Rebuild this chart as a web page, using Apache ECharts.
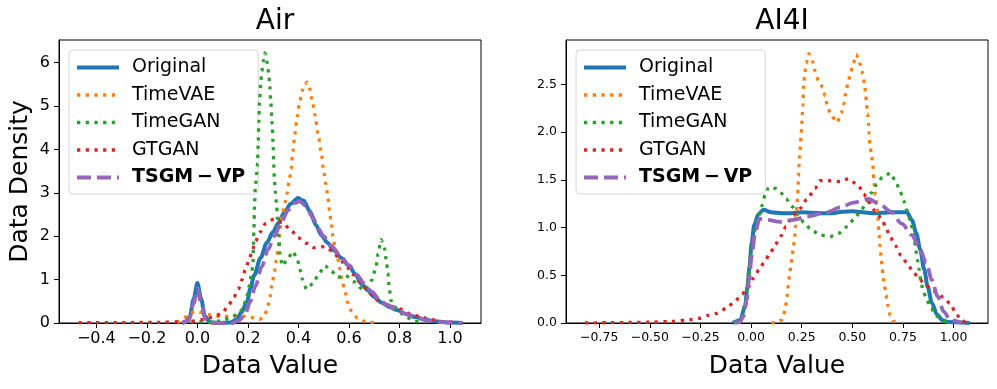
<!DOCTYPE html>
<html>
<head>
<meta charset="utf-8">
<script src="https://cdn.jsdelivr.net/npm/echarts@6/dist/echarts.min.js"></script>
<style>
  html, body { margin: 0; padding: 0; background: #fff; }
  #chart { width: 997px; height: 389px; }
</style>
</head>
<body>
<div id="chart"></div>
<script>
// series names / colours (matplotlib tab10)
var names = ['Original', 'TimeVAE', 'TimeGAN', 'GTGAN', 'TSGM\u2009\u2212\u2009VP'];
var colors = ['#1f77b4', '#ff7f0e', '#2ca02c', '#d62728', '#9467bd'];

// tick labels
var airXTicks = [-0.4, -0.2, 0, 0.2, 0.4, 0.6, 0.8, 1.0];
var airYTicks = [0, 1, 2, 3, 4, 5, 6];
var ai4iXTicks = [-0.75, -0.5, -0.25, 0, 0.25, 0.5, 0.75, 1.0];
var ai4iYTicks = [0, 0.5, 1.0, 1.5, 2.0, 2.5];

// ---- Air : [value, density] ----
var airOriginal = [[-0.06,0],[-0.045,0.03],[-0.03,0.15],[-0.015,0.55],[0,0.92],[0.015,0.55],[0.03,0.15],[0.05,0.02],[0.08,0],[0.13,0.01],
  [0.155,0.08],[0.175,0.25],[0.197,0.5],[0.21,0.8],[0.225,1.1],[0.25,1.5],[0.275,1.85],[0.3,2.1],[0.32,2.3],[0.345,2.55],[0.37,2.75],
  [0.398,2.88],[0.42,2.82],[0.445,2.58],[0.47,2.25],[0.49,2.03],[0.515,1.85],[0.54,1.67],[0.57,1.5],[0.6,1.32],[0.625,1.13],[0.65,0.9],
  [0.675,0.75],[0.7,0.6],[0.73,0.47],[0.76,0.37],[0.79,0.3],[0.83,0.2],[0.86,0.14],[0.9,0.08],[0.94,0.04],[1.0,0.01],[1.05,0]];
var airTimeVAE = [[-0.08,0],[-0.06,0.08],[-0.03,0.22],[-0.01,0.27],[0.02,0.24],[0.05,0.19],[0.09,0.15],[0.13,0.15],[0.17,0.17],[0.21,0.13],
  [0.245,0.08],[0.265,0.15],[0.278,0.35],[0.287,0.6],[0.296,0.9],[0.305,1.19],[0.313,1.45],[0.319,1.7],[0.325,2.0],[0.331,2.3],[0.338,2.55],
  [0.347,2.78],[0.356,3.0],[0.364,3.28],[0.371,3.55],[0.378,3.95],[0.386,4.35],[0.395,4.75],[0.405,5.1],[0.415,5.35],[0.425,5.5],[0.435,5.55],
  [0.445,5.4],[0.455,5.12],[0.465,4.8],[0.478,4.35],[0.49,3.94],[0.5,3.5],[0.509,3.2],[0.516,2.95],[0.523,2.6],[0.53,2.3],[0.537,2.0],
  [0.545,1.75],[0.555,1.5],[0.564,1.25],[0.573,0.98],[0.585,0.72],[0.595,0.47],[0.61,0.28],[0.635,0.11],[0.67,0.02],[0.72,0]];
var airTimeGAN = [[-0.06,0],[0,0.03],[0.05,0.02],[0.1,0.05],[0.13,0.13],[0.16,0.2],[0.18,0.32],[0.195,0.6],[0.207,0.88],[0.214,1.11],
  [0.22,1.34],[0.222,1.8],[0.224,2.2],[0.226,2.7],[0.23,3.18],[0.235,3.45],[0.238,3.68],[0.241,4.14],[0.243,4.62],[0.246,5.08],[0.251,5.54],
  [0.255,5.8],[0.26,6.02],[0.267,6.22],[0.277,5.99],[0.282,5.76],[0.286,5.53],[0.291,5.06],[0.296,4.59],[0.3,4.13],[0.302,3.67],[0.305,3.3],
  [0.309,3.0],[0.313,2.76],[0.318,2.35],[0.322,2.0],[0.327,1.6],[0.336,1.32],[0.356,1.46],[0.378,1.65],[0.396,1.46],[0.406,1.23],[0.416,1.0],
  [0.433,0.78],[0.46,0.92],[0.48,1.13],[0.505,1.32],[0.53,1.2],[0.555,1.05],[0.585,1.1],[0.62,0.95],[0.66,0.75],[0.69,0.98],[0.706,1.25],
  [0.716,1.6],[0.727,1.92],[0.741,1.72],[0.748,1.45],[0.754,1.15],[0.76,0.8],[0.766,0.52],[0.78,0.38],[0.8,0.25],[0.83,0.12],[0.86,0.04],[0.9,0]];
var airGTGAN = [[-0.47,0.01],[-0.3,0.01],[-0.15,0.015],[-0.07,0.03],[-0.025,0.04],[0.02,0.08],[0.06,0.13],[0.098,0.22],[0.12,0.38],
  [0.144,0.59],[0.162,0.78],[0.177,1.0],[0.19,1.23],[0.204,1.44],[0.217,1.67],[0.23,1.88],[0.247,2.09],[0.27,2.29],[0.303,2.39],[0.336,2.32],
  [0.369,2.15],[0.398,1.97],[0.43,1.84],[0.465,1.73],[0.503,1.76],[0.535,1.66],[0.563,1.48],[0.591,1.29],[0.618,1.11],[0.644,0.94],[0.671,0.78],
  [0.697,0.6],[0.726,0.46],[0.766,0.38],[0.806,0.32],[0.843,0.21],[0.881,0.15],[0.921,0.08],[0.97,0.03],[1.03,0]];
var airTSGM = [[-0.06,0],[-0.035,0.05],[-0.015,0.45],[0,0.8],[0.015,0.45],[0.035,0.05],[0.06,0],[0.14,0],[0.165,0.06],[0.19,0.22],[0.21,0.5],
  [0.23,0.85],[0.255,1.3],[0.28,1.7],[0.305,2.0],[0.33,2.3],[0.36,2.6],[0.385,2.76],[0.405,2.8],[0.43,2.7],[0.455,2.45],[0.48,2.17],[0.5,2.0],
  [0.53,1.78],[0.56,1.6],[0.6,1.33],[0.63,1.12],[0.66,0.92],[0.69,0.72],[0.72,0.55],[0.75,0.42],[0.79,0.3],[0.83,0.2],[0.87,0.12],[0.91,0.06],
  [0.96,0.02],[1.05,0]];

// ---- AI4I ----
var ai4iOriginal = [[-0.09,0],[-0.054,0.03],[-0.03,0.17],[-0.018,0.38],[-0.008,0.59],[0.003,0.84],[0.016,1.03],[0.036,1.14],[0.061,1.185],
  [0.1,1.16],[0.15,1.15],[0.2,1.15],[0.25,1.16],[0.3,1.155],[0.35,1.15],[0.4,1.15],[0.45,1.165],[0.5,1.17],[0.55,1.16],[0.6,1.15],[0.65,1.155],
  [0.7,1.16],[0.77,1.16],[0.794,1.08],[0.816,0.94],[0.835,0.77],[0.855,0.56],[0.872,0.38],[0.893,0.21],[0.918,0.09],[0.945,0.03],[0.97,0.01],[1.08,0]];
var ai4iTimeVAE = [[0.1,0],[0.127,0.005],[0.15,0.03],[0.16,0.07],[0.17,0.17],[0.178,0.28],[0.183,0.38],[0.19,0.49],[0.196,0.59],[0.203,0.7],
  [0.209,0.8],[0.215,0.9],[0.219,1.01],[0.222,1.12],[0.227,1.22],[0.23,1.32],[0.232,1.43],[0.234,1.54],[0.237,1.65],[0.24,1.75],[0.244,1.86],
  [0.247,1.97],[0.25,2.07],[0.253,2.18],[0.256,2.28],[0.26,2.5],[0.265,2.61],[0.272,2.72],[0.285,2.82],[0.303,2.74],[0.316,2.64],[0.333,2.54],
  [0.354,2.47],[0.366,2.38],[0.376,2.28],[0.394,2.18],[0.424,2.1],[0.445,2.2],[0.46,2.3],[0.468,2.41],[0.478,2.5],[0.489,2.6],[0.503,2.71],
  [0.519,2.81],[0.539,2.71],[0.552,2.61],[0.56,2.51],[0.566,2.41],[0.57,2.3],[0.575,2.19],[0.58,2.09],[0.583,1.98],[0.587,1.88],[0.595,1.75],
  [0.601,1.66],[0.608,1.45],[0.614,1.34],[0.621,1.24],[0.626,1.13],[0.632,0.92],[0.637,0.81],[0.642,0.7],[0.647,0.6],[0.652,0.49],[0.659,0.39],
  [0.666,0.29],[0.676,0.18],[0.687,0.08],[0.7,0.02],[0.723,0]];
var ai4iTimeGAN = [[-0.08,0],[-0.05,0.05],[-0.03,0.2],[-0.015,0.45],[0,0.72],[0.015,0.95],[0.03,1.08],[0.044,1.15],[0.056,1.24],[0.069,1.34],
  [0.085,1.41],[0.1,1.43],[0.12,1.41],[0.14,1.38],[0.173,1.3],[0.201,1.22],[0.234,1.13],[0.262,1.05],[0.3,0.97],[0.341,0.92],[0.39,0.905],
  [0.432,0.94],[0.476,1.01],[0.509,1.09],[0.542,1.17],[0.568,1.26],[0.593,1.36],[0.621,1.45],[0.649,1.53],[0.69,1.57],[0.716,1.47],[0.736,1.38],
  [0.753,1.28],[0.77,1.18],[0.786,1.08],[0.799,0.97],[0.806,0.87],[0.813,0.77],[0.821,0.66],[0.83,0.56],[0.838,0.45],[0.848,0.35],[0.868,0.24],
  [0.888,0.15],[0.918,0.07],[0.95,0.02],[0.98,0]];
var ai4iGTGAN = [[-0.82,0],[-0.7,0.003],[-0.6,0.005],[-0.5,0.008],[-0.4,0.015],[-0.3,0.035],[-0.252,0.05],[-0.211,0.08],[-0.17,0.1],
  [-0.124,0.15],[-0.082,0.22],[-0.046,0.3],[-0.013,0.38],[0.012,0.47],[0.041,0.56],[0.066,0.64],[0.094,0.73],[0.119,0.82],[0.147,0.91],
  [0.173,1.01],[0.201,1.12],[0.242,1.2],[0.278,1.3],[0.316,1.41],[0.341,1.49],[0.39,1.49],[0.44,1.48],[0.481,1.51],[0.53,1.44],[0.555,1.35],
  [0.585,1.26],[0.613,1.17],[0.646,1.09],[0.667,0.99],[0.687,0.9],[0.712,0.81],[0.74,0.71],[0.77,0.63],[0.799,0.54],[0.83,0.46],[0.865,0.39],
  [0.91,0.33],[0.951,0.27],[0.984,0.2],[1.012,0.1],[1.037,0.03],[1.06,0]];
var ai4iTSGM = [[-0.08,0],[-0.055,0.01],[-0.038,0.07],[-0.021,0.24],[-0.01,0.45],[0.003,0.7],[0.02,0.94],[0.041,1.09],[0.078,1.08],
  [0.143,1.06],[0.209,1.08],[0.275,1.115],[0.374,1.16],[0.44,1.21],[0.506,1.26],[0.58,1.3],[0.638,1.24],[0.687,1.17],[0.745,1.04],
  [0.794,0.92],[0.832,0.78],[0.865,0.63],[0.893,0.45],[0.921,0.28],[0.951,0.12],[0.984,0.03],[1.04,0]];

var airData = [airOriginal, airTimeVAE, airTimeGAN, airGTGAN, airTSGM];
var ai4iData = [ai4iOriginal, ai4iTimeVAE, ai4iTimeGAN, ai4iGTGAN, ai4iTSGM];

var FONT = 'DejaVu Sans';

function minus(s) { return s.replace('-', '\u2212'); }

// matplotlib-like line styles: solid, dotted x3, dashed
function lineStyleOf(i) {
  if (i == 0) return { width: 4, type: 'solid', cap: 'butt' };
  if (i == 4) return { width: 3.8, type: [14, 6], cap: 'butt' };
  return { width: 3.3, type: [3.3, 5.4], cap: 'butt' };
}

function makeSeries(data, idx) {
  return data.map(function (d, i) {
    var ls = lineStyleOf(i);
    ls.color = colors[i];
    return {
      name: names[i],
      type: 'line',
      xAxisIndex: idx,
      yAxisIndex: idx,
      data: d,
      symbol: 'none',
      showSymbol: false,
      smooth: 0.3,
      smoothMonotone: 'x',
      lineStyle: ls,
      itemStyle: { color: colors[i] },
      animation: false,
      z: 2 + i
    };
  });
}

function legendOf(left) {
  return {
    left: left,
    top: 50,
    orient: 'vertical',
    data: names,
    itemWidth: 42,
    itemHeight: 20,
    itemGap: 8.5,
    padding: [8, 13, 7, 6],
    backgroundColor: 'rgba(255,255,255,0.8)',
    borderColor: '#d6d6d6',
    borderWidth: 1,
    borderRadius: 4,
    selectedMode: false,
    itemStyle: { opacity: 0 },
    lineStyle: { width: 'inherit', type: 'inherit', cap: 'butt' },
    formatter: function (n) { return n.indexOf('TSGM') == 0 ? '{b|' + n + '}' : n; },
    textStyle: {
      fontFamily: FONT, fontSize: 19, color: '#000', padding: [0, 0, 0, 8],
      rich: { b: { fontFamily: FONT, fontSize: 19, fontWeight: 'bold', color: '#000' } }
    }
  };
}

function xAxisOf(idx, min, max, ticks, digits, fs) {
  return {
    type: 'value', gridIndex: idx, min: min, max: max,
    splitLine: { show: false },
    axisLine: { show: true, onZero: false, lineStyle: { color: '#000', width: 1 } },
    axisTick: { show: true, length: 5, customValues: ticks, lineStyle: { color: '#000' } },
    axisLabel: {
      customValues: ticks, margin: 8, fontFamily: FONT, fontSize: fs, color: '#000',
      formatter: function (v) { return minus(v.toFixed(digits)); }
    },
    name: 'Data Value', nameLocation: 'middle', nameGap: 31,
    nameTextStyle: { fontFamily: FONT, fontSize: 25, color: '#000' }
  };
}

function yAxisOf(idx, max, ticks, digits, fs, title) {
  return {
    type: 'value', gridIndex: idx, min: 0, max: max,
    splitLine: { show: false },
    axisLine: { show: true, onZero: false, lineStyle: { color: '#000', width: 1 } },
    axisTick: { show: true, length: 5, customValues: ticks, lineStyle: { color: '#000' } },
    axisLabel: {
      customValues: ticks, margin: 9, fontFamily: FONT, fontSize: fs, color: '#000',
      formatter: function (v) { return v.toFixed(digits); }
    },
    name: title, nameLocation: 'middle', nameGap: 26,
    nameTextStyle: { fontFamily: FONT, fontSize: 25, color: '#000' }
  };
}

var myChart = echarts.init(document.getElementById('chart'), null, { renderer: 'canvas' });

var option = {
  backgroundColor: '#fff',
  animation: false,
  title: [
    { text: 'Air', left: 270, top: 3, textAlign: 'center', textStyle: { fontFamily: FONT, fontSize: 28, fontWeight: 'normal', color: '#000' } },
    { text: 'AI4I', left: 777, top: 3, textAlign: 'center', textStyle: { fontFamily: FONT, fontSize: 28, fontWeight: 'normal', color: '#000' } }
  ],
  grid: [
    { left: 59, top: 40, width: 422, height: 283, show: true, borderColor: '#000', borderWidth: 1, backgroundColor: 'transparent' },
    { left: 566, top: 40, width: 422, height: 283, show: true, borderColor: '#000', borderWidth: 1, backgroundColor: 'transparent' }
  ],
  legend: [legendOf(69), legendOf(576)],
  xAxis: [
    xAxisOf(0, -0.548, 1.123, airXTicks, 1, 16),
    xAxisOf(1, -0.914, 1.170, ai4iXTicks, 2, 12.5)
  ],
  yAxis: [
    yAxisOf(0, 6.52, airYTicks, 0, 16, 'Data Density'),
    yAxisOf(1, 2.964, ai4iYTicks, 1, 12.5, '')
  ],
  series: makeSeries(airData, 0).concat(makeSeries(ai4iData, 1))
};

myChart.setOption(option);
</script>
</body>
</html>
